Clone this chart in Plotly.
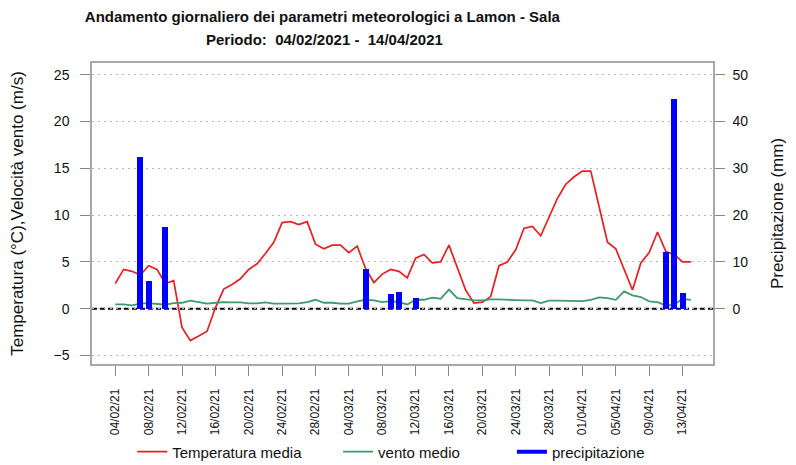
import pandas as pd
import plotly.graph_objects as go

start_date = "2021-02-04"
temperatura = [2.7, 4.2, 4.0, 3.6, 4.6, 4.2, 2.7, 3.0, -2.0, -3.4,
               -2.9, -2.4, 0.1, 2.1, 2.6, 3.2, 4.2, 4.8, 5.9, 7.1,
               9.2, 9.3, 9.0, 9.3, 6.9, 6.4, 6.8, 6.8, 6.0, 6.7,
               4.3, 2.8, 3.7, 4.2, 4.0, 3.3, 5.4, 5.8, 4.9, 5.0,
               6.8, 4.5, 2.0, 0.6, 0.7, 1.3, 4.6, 5.0, 6.3, 8.6,
               8.8, 7.8, 9.8, 11.8, 13.3, 14.1, 14.7, 14.7, 10.9, 7.1,
               6.4, 4.2, 2.0, 4.9, 6.0, 8.2, 6.1, 5.8, 5.0, 5.0]
vento = [0.46, 0.46, 0.36, 0.54, 0.60, 0.54, 0.43, 0.60, 0.64, 0.86,
         0.71, 0.54, 0.64, 0.71, 0.68, 0.68, 0.57, 0.57, 0.68, 0.54,
         0.54, 0.57, 0.57, 0.71, 0.96, 0.64, 0.64, 0.54, 0.54, 0.79,
         0.96, 0.89, 0.71, 0.82, 0.71, 0.46, 0.96, 0.96, 1.18, 1.07,
         2.04, 1.14, 1.00, 0.89, 0.89, 1.00, 1.00, 1.00, 0.93, 0.89,
         0.89, 0.60, 0.86, 0.86, 0.82, 0.86, 0.82, 0.96, 1.21, 1.14,
         0.96, 1.86, 1.43, 1.25, 0.79, 0.71, 0.36, 0.43, 1.07, 0.96]
precipitazione = [0, 0, 0, 32.5, 5.9, 0, 17.5, 0, 0, 0,
                  0, 0, 0, 0, 0, 0, 0, 0, 0, 0,
                  0, 0, 0, 0, 0, 0, 0, 0, 0, 0,
                  8.4, 0, 0, 3.1, 3.6, 0, 2.2, 0, 0, 0,
                  0, 0, 0, 0, 0, 0, 0, 0, 0, 0,
                  0, 0, 0, 0, 0, 0, 0, 0, 0, 0,
                  0, 0, 0, 0, 0, 0, 12.1, 44.8, 3.4, 0]
tick_labels = ["04/02/21", "08/02/21", "12/02/21", "16/02/21", "20/02/21", "24/02/21",
               "28/02/21", "04/03/21", "08/03/21", "12/03/21", "16/03/21", "20/03/21",
               "24/03/21", "28/03/21", "01/04/21", "05/04/21", "09/04/21", "13/04/21"]
y_left_ticks = [-5, 0, 5, 10, 15, 20, 25]
y_right_ticks = [0, 10, 20, 30, 40, 50]
title_line1 = "Andamento giornaliero dei parametri meteorologici a Lamon - Sala"
title_line2 = "Periodo:  04/02/2021 -  14/04/2021"

dates = pd.date_range(start_date, periods=len(temperatura), freq="D")
tick_vals = [pd.to_datetime(t, format="%d/%m/%y") for t in tick_labels]
t0 = pd.Timestamp(start_date)
x_range = [t0 - pd.Timedelta(days=2.79), t0 + pd.Timedelta(days=71.65)]

FONT = "Liberation Sans, Arial, sans-serif"

fig = go.Figure()
fig.add_trace(go.Bar(x=dates, y=precipitazione, yaxis="y2", marker=dict(color="#0000FF", line=dict(width=0)),
                     width=0.72 * 86400000, showlegend=False, name="precipitazione"))
fig.add_trace(go.Scatter(x=dates, y=temperatura, mode="lines", line=dict(color="#E82020", width=1.7),
                         name="Temperatura media", legend="legend"))
fig.add_trace(go.Scatter(x=dates, y=vento, mode="lines", line=dict(color="#3A9C6C", width=1.8),
                         name="vento medio", legend="legend2"))
fig.add_trace(go.Scatter(x=[None], y=[None], mode="lines", line=dict(color="#0000FF", width=4),
                         name="precipitazione", legend="legend3"))

fig.add_shape(type="line", xref="paper", x0=0, x1=1, yref="y", y0=0, y1=0,
              line=dict(color="black", width=2, dash="5px,3px"), layer="between")

fig.add_annotation(text=title_line2, xref="paper", yref="paper", x=0.375, y=1.0797,
                   xanchor="center", yanchor="middle", showarrow=False,
                   font=dict(family=FONT, size=15, color="#111", weight="bold"))

leg_common = dict(orientation="h", yanchor="middle", y=-0.292, xanchor="left",
                  font=dict(family=FONT, size=15, color="#111"), bgcolor="rgba(0,0,0,0)")
axis_common = dict(showline=True, linecolor="#A8A8A8", linewidth=1.5, ticks="outside", ticklen=10,
                   tickcolor="#888888", tickwidth=1, automargin=False)

fig.update_layout(
    width=796, height=465,
    margin=dict(l=92, r=83, t=63, b=101, autoexpand=False),
    paper_bgcolor="white", plot_bgcolor="white",
    font=dict(family=FONT, color="#111"),
    title=dict(text=title_line1, x=0.405, xanchor="center", xref="container",
               y=1 - 17 / 465, yanchor="middle", yref="container",
               font=dict(family=FONT, size=15, color="#111", weight="bold")),
    xaxis=dict(type="date", range=x_range, tickvals=tick_vals, ticktext=tick_labels, tickangle=-90,
               tickfont=dict(size=12), mirror=True, showgrid=False, ticklabelstandoff=8, **axis_common),
    yaxis=dict(range=[-5.9, 26.25], tickvals=y_left_ticks, tickfont=dict(size=14), mirror=True,
               showgrid=True, gridcolor="#B8B8B8", gridwidth=1.3, griddash="2px,4px", zeroline=False,
               ticklabelstandoff=8,
               title=dict(text="Temperatura (°C),Velocità vento (m/s)", font=dict(size=17), standoff=26),
               **axis_common),
    yaxis2=dict(range=[-11.8, 52.5], tickvals=y_right_ticks, overlaying="y", side="right",
                tickfont=dict(size=14), showgrid=False, zeroline=False, ticklabelstandoff=5,
                title=dict(text="Precipitazione (mm)", font=dict(size=17), standoff=24),
                **axis_common),
    bargap=0,
    legend=dict(x=0.0648, **leg_common),
    legend2=dict(x=0.3963, **leg_common),
    legend3=dict(x=0.6762, **leg_common),
)

fig.write_html("out.html", config={"displayModeBar": False},
               post_script="document.body.style.margin='0';document.body.style.padding='0';")
